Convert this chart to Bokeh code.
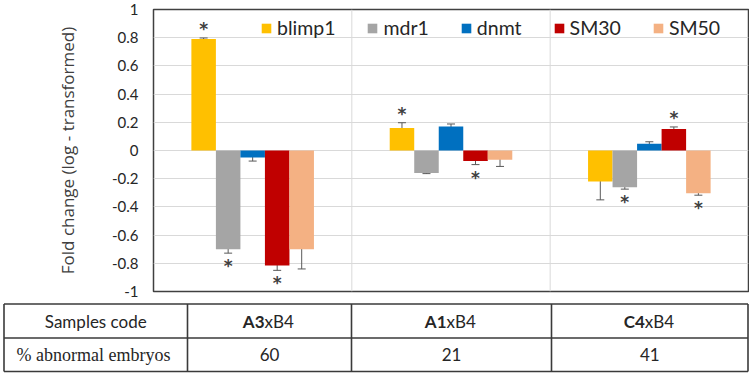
from bokeh.plotting import figure
from bokeh.models import (ColumnDataSource, FactorRange, FixedTicker, Span, Whisker,
                          TeeHead, Legend, LegendItem, Range1d)
from bokeh.transform import dodge
from bokeh.layouts import column
from bokeh.core.properties import value
from bokeh.embed import file_html
from bokeh.resources import INLINE

# ---------------- data ----------------
groups = ["A3xB4", "A1xB4", "C4xB4"]
series = ["blimp1", "mdr1", "dnmt", "SM30", "SM50"]
colors = ["#FFC000", "#A5A5A5", "#0070C0", "#C00000", "#F4B183"]

blimp1 = [0.79, 0.16, -0.22]
mdr1 = [-0.70, -0.16, -0.26]
dnmt = [-0.05, 0.17, 0.047]
SM30 = [-0.815, -0.075, 0.153]
SM50 = [-0.70, -0.066, -0.303]

blimp1_err = [0.008, 0.037, 0.13]
mdr1_err = [0.028, 0.004, 0.014]
dnmt_err = [0.025, 0.018, 0.015]
SM30_err = [0.035, 0.025, 0.014]
SM50_err = [0.14, 0.047, 0.014]

# significance (asterisk) flags
blimp1_sig = [1, 1, 0]
mdr1_sig = [1, 0, 1]
dnmt_sig = [0, 0, 0]
SM30_sig = [1, 1, 1]
SM50_sig = [0, 0, 1]

y_ticks = [-1, -0.8, -0.6, -0.4, -0.2, 0, 0.2, 0.4, 0.6, 0.8, 1]

code_bold = ["A3", "A1", "C4"]
code_rest = ["xB4", "xB4", "xB4"]
abnormal = ["60", "21", "41"]
row_labels = ["Samples code", "% abnormal  embryos"]

values = [blimp1, mdr1, dnmt, SM30, SM50]
errors = [blimp1_err, mdr1_err, dnmt_err, SM30_err, SM50_err]
sigs = [blimp1_sig, mdr1_sig, dnmt_sig, SM30_sig, SM50_sig]

# ---------------- chart ----------------
FONT = "Lato"
TXT = "#404040"
bar_w = 0.1236

p = figure(x_range=FactorRange(factors=groups, range_padding=0), y_range=Range1d(-1, 1),
           width=749, height=300, output_backend="svg", toolbar_location=None,
           min_border_left=153, min_border_right=1, min_border_top=9, min_border_bottom=9)
p.frame_align = False
p.xaxis.visible = False
p.xgrid.visible = False
p.outline_line_color = "#404040"
p.outline_line_width = 1.5
p.background_fill_color = "white"
p.border_fill_color = "white"

p.yaxis.ticker = FixedTicker(ticks=y_ticks)
p.yaxis.major_label_overrides = {t: f"{t:g}" for t in y_ticks}
p.yaxis.axis_line_color = None
p.yaxis.major_tick_out = 0
p.yaxis.major_tick_in = 0
p.yaxis.minor_tick_out = 0
p.yaxis.minor_tick_in = 0
p.yaxis.major_label_standoff = 15
p.yaxis.major_label_text_font = FONT
p.yaxis.major_label_text_font_size = "15px"
p.yaxis.major_label_text_color = "#262626"
p.yaxis.axis_label = "Fold change (log - transformed)"
p.yaxis.axis_label_text_font = "Open Sans"
p.yaxis.axis_label_text_font_size = "17px"
p.yaxis.axis_label_text_font_style = "normal"
p.yaxis.axis_label_text_color = TXT
p.yaxis.axis_label_standoff = 30
p.ygrid.ticker = FixedTicker(ticks=y_ticks)
p.ygrid.grid_line_color = "#D9D9D9"
p.ygrid.grid_line_width = 1

for loc in [1, 2]:
    p.add_layout(Span(location=loc, dimension="height", line_color="#D9D9D9", line_width=1))

items = []
for j, (name, vals, errs, sg, col) in enumerate(zip(series, values, errors, sigs, colors)):
    off = (j - 2) * bar_w
    upper = [v + e for v, e in zip(vals, errs)]
    lower = [v - e for v, e in zip(vals, errs)]
    src = ColumnDataSource(dict(group=groups, val=vals, upper=upper, lower=lower))
    r = p.vbar(x=dodge("group", off, range=p.x_range), top="val", bottom=0, width=bar_w,
               source=src, fill_color=col, line_color=None)
    items.append(LegendItem(label=name, renderers=[r]))
    w = Whisker(base=dodge("group", off, range=p.x_range), upper="upper", lower="lower",
                source=src, line_color="#595959", line_width=1,
                upper_head=TeeHead(size=8, line_color="#595959", line_width=1),
                lower_head=TeeHead(size=8, line_color="#595959", line_width=1))
    p.add_layout(w)
    sg_groups, sg_y, sg_off = [], [], []
    for g, v, e, s in zip(groups, vals, errs, sg):
        if s:
            sg_groups.append(g)
            sg_y.append(v + e if v > 0 else v - e)
            sg_off.append(-9 if v > 0 else 13)
    if sg_groups:
        ssrc = ColumnDataSource(dict(group=sg_groups, y=sg_y, yo=sg_off, t=["*"] * len(sg_groups)))
        p.text(x=dodge("group", off, range=p.x_range), y="y", text="t", y_offset="yo",
               source=ssrc, text_font=value("DejaVu Sans"), text_font_size="17px",
               text_font_style="bold", text_color="#404040", text_align="center",
               text_baseline="middle")

legend = Legend(items=items, orientation="horizontal", location=(107, 252),
                glyph_width=12, glyph_height=12, label_standoff=5, spacing=31,
                padding=0, margin=0, border_line_color=None, background_fill_alpha=0,
                label_text_font=FONT, label_text_font_size="19.5px", label_text_color="#262626")
p.add_layout(legend)

# ---------------- table ----------------
t = figure(width=749, height=74, x_range=Range1d(0, 749), y_range=Range1d(374, 300),
           output_backend="svg", toolbar_location=None,
           min_border_left=0, min_border_right=0, min_border_top=0, min_border_bottom=0)
t.frame_align = False
t.axis.visible = False
t.grid.visible = False
t.outline_line_color = None
t.background_fill_color = "white"
t.border_fill_color = "white"

col_edges = [3.5, 187, 351, 551, 747.5]
row_edges = [303.5, 337.5, 371]
LC = "#3a3a3a"
t.segment(x0=[col_edges[0]] * 3, x1=[col_edges[-1]] * 3, y0=row_edges, y1=row_edges,
          line_color=LC, line_width=1.6)
t.segment(x0=col_edges, x1=col_edges, y0=[row_edges[0]] * 5, y1=[row_edges[-1]] * 5,
          line_color=LC, line_width=1.6)

row_y = [(row_edges[0] + row_edges[1]) / 2, (row_edges[1] + row_edges[2]) / 2]
first_cx = (col_edges[0] + col_edges[1]) / 2
cell_cx = [(col_edges[i] + col_edges[i + 1]) / 2 for i in range(1, 4)]

t.text(x=[first_cx], y=[row_y[0]], text=[row_labels[0]], text_font=value(FONT),
       text_font_size="17px", text_color="#262626", text_align="center", text_baseline="middle")
t.text(x=[first_cx], y=[row_y[1]], text=[row_labels[1]], text_font=value("Liberation Serif"),
       text_font_size="18px", text_color="#262626", text_align="center", text_baseline="middle")
split_x = [c - 5 for c in cell_cx]
t.text(x=split_x, y=[row_y[0]] * 3, text=code_bold, text_font=value(FONT),
       text_font_size="17px", text_font_style="bold", text_color="#262626",
       text_align="right", text_baseline="middle")
t.text(x=split_x, y=[row_y[0]] * 3, text=code_rest, text_font=value(FONT),
       text_font_size="17px", text_color="#262626", text_align="left", text_baseline="middle")
t.text(x=cell_cx, y=[row_y[1]] * 3, text=abnormal, text_font=value(FONT),
       text_font_size="17px", text_color="#262626", text_align="center", text_baseline="middle")

layout = column(p, t, spacing=0)
open("out.html", "w").write(file_html(layout, INLINE))
